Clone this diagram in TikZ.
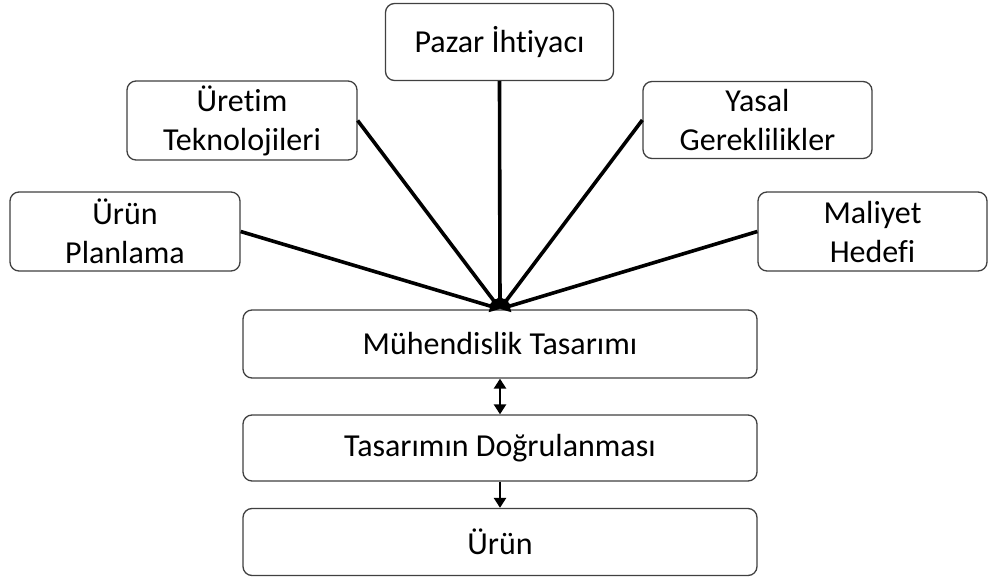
\documentclass[tikz,border=0pt]{standalone}
\usepackage{fontspec}
\setmainfont{Carlito}[RawFeature=-liga]
\usetikzlibrary{arrows.meta}
\begin{document}
\begin{tikzpicture}[x=1pt,y=-1pt,
  txt/.style={align=center,font=\fontsize{32}{39}\selectfont,inner sep=0pt},
  box/.style={draw=black!75,line width=1.3pt,rounded corners=9pt,fill=white,txt},
  conn/.style={line width=3.6pt,-{Triangle[length=10pt,width=12pt]}},
  small/.style={line width=2.6pt,-{Triangle[length=10pt,width=12pt]}}]
\useasboundingbox (0,0) rectangle (988,578);
\node[box,minimum width=228pt,minimum height=77pt] (pazar) at (499.5,42) {Pazar İhtiyacı};
\node[box,minimum width=230pt,minimum height=79pt] (uretim) at (242,120.5) {Üretim\\Teknolojileri};
\node[box,minimum width=229pt,minimum height=77pt] (yasal) at (757.5,120) {Yasal\\Gereklilikler};
\node[box,minimum width=230pt,minimum height=79pt] (plan) at (125,231.5) {Ürün\\Planlama};
\node[box,minimum width=229pt,minimum height=79pt] (maliyet) at (872.5,231.5) {Maliyet\\Hedefi};
\node[box,minimum width=514pt,minimum height=68pt] (muh) at (500,344) {Mühendislik Tasarımı};
\node[box,minimum width=514pt,minimum height=66pt] (dog) at (500,448) {Tasarımın Doğrulanması};
\node[box,minimum width=514pt,minimum height=67pt] (urun) at (500,542) {Ürün};
\coordinate (c) at (500,309);
\draw[conn] (pazar.south) -- (c);
\draw[conn] (uretim.east) -- (c);
\draw[conn] (yasal.west) -- (c);
\draw[conn] (plan.east) -- (c);
\draw[conn] (maliyet.west) -- (c);
\draw[small,{Triangle[length=10pt,width=12pt]}-{Triangle[length=10pt,width=12pt]}] (muh.south) -- (dog.north);
\draw[small] (dog.south) -- (urun.north);
\end{tikzpicture}
\end{document}
